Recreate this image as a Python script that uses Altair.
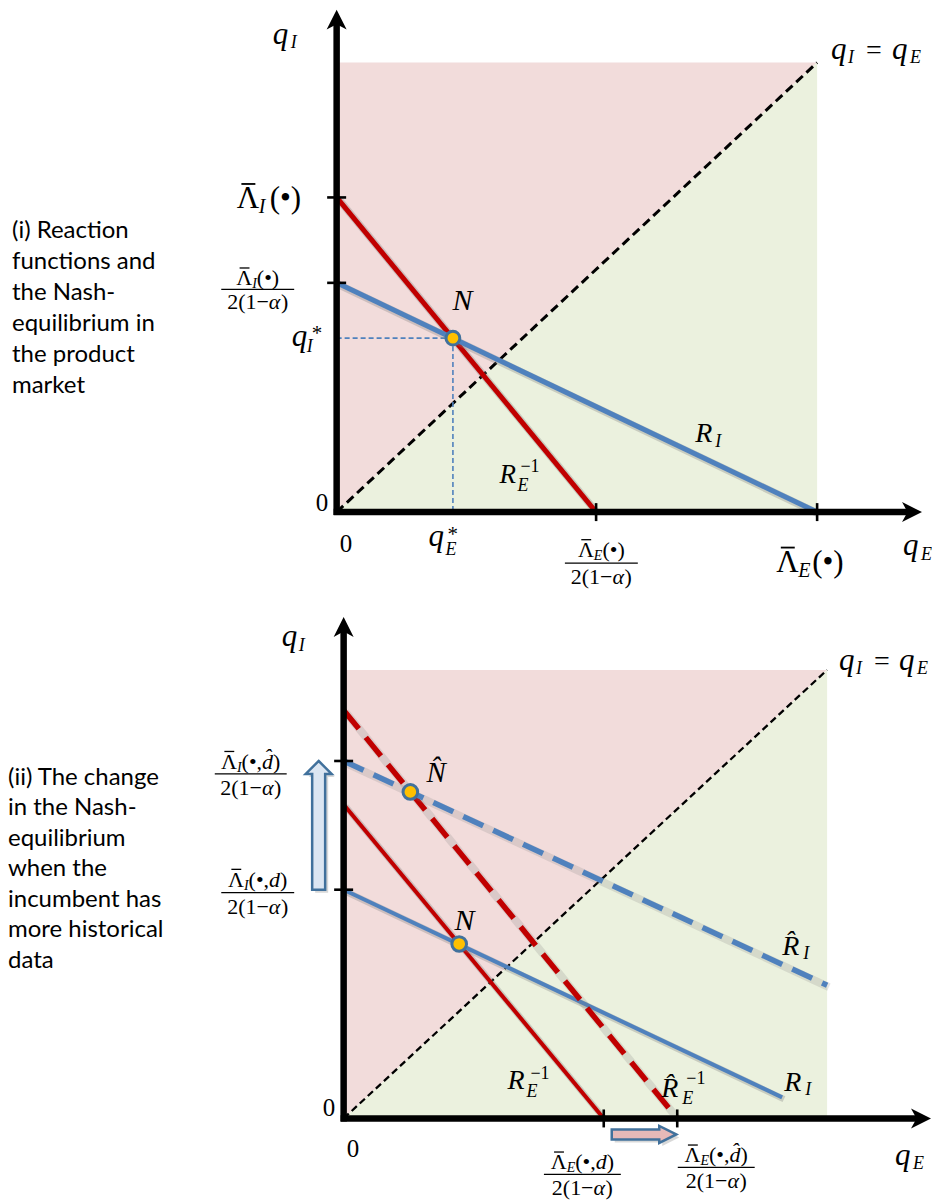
import altair as alt
import pandas as pd

# ===================== DATA (quantity units; shaded square spans 0..10) =====================
# Panel (i)
p1_RE_qE = [0.0, 5.4]      # R_E^{-1}: Λ̄_I(·) on q_I axis -> Λ̄_E(·)/2(1-α) on q_E axis
p1_RE_qI = [7.0, 0.0]
p1_RI_qE = [0.0, 10.0]     # R_I: Λ̄_I(·)/2(1-α) -> Λ̄_E(·)
p1_RI_qI = [5.1, 0.0]
p1_N = [2.42, 3.87]        # (q_E*, q_I*)
p1_xticks = [5.4, 10.0]
p1_yticks = [7.0, 5.1]

# Panel (ii)
p2_RE_qE = [0.0, 5.38]
p2_RE_qI = [7.0, 0.0]
p2_RI_qE = [0.0, 9.07]
p2_RI_qI = [5.1, 0.47]
p2_REh_qE = [0.0, 6.9]     # R̂_E^{-1} (dashed)
p2_REh_qI = [9.1, 0.0]
p2_RIh_qE = [0.0, 10.0]    # R̂_I (dashed)
p2_RIh_qI = [7.97, 2.97]
p2_N = [2.39, 3.89]
p2_Nh = [1.38, 7.28]
p2_xticks = [5.38, 6.9]
p2_yticks = [7.97, 5.1]

shade_qE = [0.0, 10.0]
shade_diag = [0.0, 10.0]
shade_top = [10.0, 10.0]
shade_bottom = [0.0, 0.0]

p1_caption = ["(i) Reaction", "functions and", "the Nash-", "equilibrium in", "the product", "market"]
p2_caption = ["(ii) The change", "in the Nash-", "equilibrium", "when the", "incumbent has",
              "more historical", "data"]

# ===================== STYLE / LAYOUT =====================
SERIF = "Liberation Serif"
SANS = "Lato"
RED = "#C00000"
BLUE = "#4F81BD"
PINK = "#F2DCDB"
GREEN = "#EBF1DE"
GOLD = "#FFC000"
EDGE = "#41719C"
SHADOW = "#7F7F7F"

W = 924
G1 = dict(ox=329, oy=504, sx=48.1, sy=45.0, H=600, ytip=503, xtip=586)
G2 = dict(ox=336, oy=511, sx=48.4, sy=44.9, H=595, ytip=502, xtip=588)

HAT = "\u0302"
LAM = "Λ"

REG_W = {"Λ": 0.722, "(": 0.333, ")": 0.333, "•": 0.35, ",": 0.25, "2": 0.5, "1": 0.5,
         "−": 0.564, "0": 0.5, "=": 0.564, "*": 0.5, " ": 0.25}
ITA_W = {"I": 0.333, "E": 0.611, "d": 0.5, "q": 0.5, "R": 0.611, "N": 0.667, "α": 0.55}


def text_width(t, size, kind):
    tab = ITA_W if kind == "it" else REG_W
    return sum(0.0 if c == HAT else tab.get(c, 0.5) for c in t) * size


class Panel:
    def __init__(self, G):
        self.G = G
        self.layers = []
        self.pieces = []
        self.bars = []
        self.xs = alt.Scale(domain=[-G["ox"] / G["sx"], (W - G["ox"]) / G["sx"]], nice=False, zero=False)
        self.ys = alt.Scale(domain=[(G["oy"] - G["H"]) / G["sy"], G["oy"] / G["sy"]], nice=False, zero=False)

    def X(self, f):
        return alt.X(f, type="quantitative", scale=self.xs, axis=None)

    def Y(self, f):
        return alt.Y(f, type="quantitative", scale=self.ys, axis=None)

    def du(self, px):
        return px / self.G["sx"]

    def dv(self, px):  # px measured downwards
        return -px / self.G["sy"]

    # ---- shapes ----
    def shading(self):
        pink = pd.DataFrame({"u": shade_qE, "lo": shade_diag, "hi": shade_top})
        green = pd.DataFrame({"u": shade_qE, "lo": shade_bottom, "hi": shade_diag})
        for df, col in ((pink, PINK), (green, GREEN)):
            self.layers.append(alt.Chart(df).mark_area(color=col, opacity=1).encode(
                x=self.X("u"), y=self.Y("lo"), y2=alt.Y2("hi")))

    def line(self, u, v, color, width, dash=None, shadow=0.32):
        if shadow:
            sd = pd.DataFrame({"u": [a + self.du(1.8) for a in u], "v": [b + self.dv(1.8) for b in v]})
            self.layers.append(alt.Chart(sd).mark_line(color=SHADOW, opacity=shadow,
                                                       strokeWidth=width + 2.5).encode(
                x=self.X("u"), y=self.Y("v")))
        kw = dict(color=color, strokeWidth=width, strokeCap="butt")
        if dash:
            kw["strokeDash"] = dash
        self.layers.append(alt.Chart(pd.DataFrame({"u": u, "v": v})).mark_line(**kw).encode(
            x=self.X("u"), y=self.Y("v")))

    def rules(self, rows, color, width, dash=None):
        kw = dict(color=color, strokeWidth=width, strokeCap="butt")
        if dash:
            kw["strokeDash"] = dash
        df = pd.DataFrame(rows, columns=["u", "v", "u2", "v2"])
        self.layers.append(alt.Chart(df).mark_rule(**kw).encode(
            x=self.X("u"), y=self.Y("v"), x2=alt.X2("u2"), y2=alt.Y2("v2")))

    def symbols(self, us, vs, shape, size, fill, stroke=None, sw=0, opacity=1.0):
        kw = dict(shape=shape, size=size, filled=True, fill=fill, opacity=opacity, strokeWidth=sw)
        if stroke:
            kw["stroke"] = stroke
        else:
            kw["strokeWidth"] = 0
        self.layers.append(alt.Chart(pd.DataFrame({"u": us, "v": vs})).mark_point(**kw).encode(
            x=self.X("u"), y=self.Y("v")))

    def axes(self):
        G = self.G
        yend = self.dv(-(G["ytip"] - 10))
        xend = self.du(G["xtip"] - 10)
        self.rules([[0, self.dv(3), 0, yend], [self.du(-3), 0, xend, 0]], "#000000", 6.5)
        self.symbols([0], [yend], "M0,-1L1,1L0,0.45L-1,1Z", 400, "#000000")
        self.symbols([xend], [0], "M1,0L-1,-1L-0.45,0L-1,1Z", 400, "#000000")

    def ticks(self, xt, yt):
        rows = [[t, self.dv(9), t, self.dv(-9)] for t in xt]
        rows += [[self.du(-9.5), t, self.du(9.5), t] for t in yt]
        self.rules(rows, "#000000", 2.6)

    # ---- text ----
    def piece(self, dx, dy, text, size, kind):
        self.pieces.append(dict(u=self.du(dx), v=self.dv(dy), text=text, size=size, kind=kind))
        if text == LAM:   # macron over Λ drawn as a short bar
            self.bars.append(dict(u=self.du(dx + 0.15 * size), v=self.dv(dy - 0.79 * size),
                                  u2=self.du(dx + 0.60 * size), v2=self.dv(dy - 0.79 * size),
                                  w=max(1.2, size / 17)))

    def frac(self, cx, nb, by, db, half, num, den):
        for parts, base in ((num, nb), (den, db)):
            total = sum(text_width(t, s, k) for t, s, k, _ in parts)
            x = cx - total / 2
            for t, s, k, off in parts:
                self.piece(x, base + off, t, s, k)
                x += text_width(t, s, k)
        self.bars.append(dict(u=self.du(cx - half), v=self.dv(by), u2=self.du(cx + half),
                              v2=self.dv(by), w=1.3))

    def caption(self, dx, dy, lines, lh):
        df = pd.DataFrame({"u": [self.du(dx)], "v": [self.dv(dy)], "text": ["\n".join(lines)]})
        self.layers.append(alt.Chart(df).mark_text(font=SANS, fontSize=24, align="left",
                                                   baseline="alphabetic", lineBreak="\n",
                                                   lineHeight=lh, color="#000000").encode(
            x=self.X("u"), y=self.Y("v"), text="text:N"))

    def build(self):
        if self.bars:
            self.layers.append(alt.Chart(pd.DataFrame(self.bars)).mark_rule(
                color="#000000", strokeCap="butt").encode(
                x=self.X("u"), y=self.Y("v"), x2=alt.X2("u2"), y2=alt.Y2("v2"),
                strokeWidth=alt.StrokeWidth("w:Q", scale=None)))
        df = pd.DataFrame(self.pieces)
        for kind, style in (("it", "italic"), ("reg", "normal")):
            sub = df[df["kind"] == kind]
            if len(sub) == 0:
                continue
            self.layers.append(alt.Chart(sub).mark_text(font=SERIF, fontStyle=style, align="left",
                                                        baseline="alphabetic", color="#000000").encode(
                x=self.X("u"), y=self.Y("v"), text="text:N",
                size=alt.Size("size:Q", scale=None)))
        return alt.layer(*self.layers).properties(width=W, height=self.G["H"])


def num_I(sub, extra=None, size=22):
    parts = [(LAM, size, "reg", 0), (sub, 14, "it", 3)]
    if extra is None:
        parts.append(("(•)", size, "reg", 0))
    else:
        parts += [("(•,", size, "reg", 0), (extra, size, "it", 0), (")", size, "reg", 0)]
    return parts


DEN = [("2(1−", 22, "reg", 0), ("α", 22, "it", 0), (")", 22, "reg", 0)]

# ===================== PANEL (i) =====================
P = Panel(G1)
P.shading()
P.line(shade_qE, shade_diag, "#000000", 3, dash=[9, 5], shadow=0)
P.rules([[0, p1_N[1], p1_N[0], p1_N[1]], [p1_N[0], p1_N[1], p1_N[0], 0]], BLUE, 1.6, dash=[5, 3])
P.line(p1_RE_qE, p1_RE_qI, RED, 5)
P.line(p1_RI_qE, p1_RI_qI, BLUE, 5)
P.axes()
P.ticks(p1_xticks, p1_yticks)
P.symbols([p1_N[0]], [p1_N[1]], "circle", 190, GOLD, EDGE, 3)

P.piece(-64, -469, "q", 31, "it"); P.piece(-46, -465, "I", 18, "it")
P.piece(-100, -304, LAM, 31, "reg"); P.piece(-78, -299, "I", 20, "it"); P.piece(-67, -304, "(•)", 31, "reg")
P.frac(-79, -227, -223, -203, 36.5, num_I("I"), DEN)
P.piece(-45, -166, "q", 31, "it"); P.piece(-30, -160, "I", 18, "it"); P.piece(-25, -172, "*", 21, "reg")
P.piece(116, -202, "N", 30, "it")
P.piece(359, -70, "R", 28, "it"); P.piece(379, -65, "I", 18, "it")
P.piece(163, -29, "R", 27, "it"); P.piece(181, -21, "E", 18, "it"); P.piece(184, -40, "−1", 18, "reg")
P.piece(-21, -1, "0", 25, "reg"); P.piece(3, 40, "0", 25, "reg")
P.piece(92, 34, "q", 31, "it"); P.piece(109, 43, "E", 18, "it"); P.piece(111, 29, "*", 21, "reg")
P.frac(265, 45, 51, 72, 36.5, num_I("E"), DEN)
P.piece(440, 60, LAM, 31, "reg"); P.piece(462, 65, "E", 20, "it"); P.piece(476, 60, "(•)", 31, "reg")
P.piece(567, 43, "q", 31, "it"); P.piece(585, 48, "E", 18, "it")
P.piece(495, -454, "q", 31, "it"); P.piece(512, -450, "I", 18, "it"); P.piece(530, -454, "=", 28, "reg")
P.piece(556, -454, "q", 31, "it"); P.piece(574, -450, "E", 18, "it")
P.caption(-325, -274, p1_caption, 31)
panel1 = P.build()

# ===================== PANEL (ii) =====================
Q = Panel(G2)
Q.shading()
Q.line(shade_qE, shade_diag, "#000000", 2.3, dash=[7, 4], shadow=0)
Q.line(p2_RE_qE, p2_RE_qI, RED, 4)
Q.line(p2_RI_qE, p2_RI_qI, BLUE, 4)
Q.line(p2_REh_qE, p2_REh_qI, RED, 5.5, dash=[24, 11], shadow=0.2)
Q.line(p2_RIh_qE, p2_RIh_qI, BLUE, 5.5, dash=[22, 11], shadow=0.2)
Q.axes()
Q.ticks(p2_xticks, p2_yticks)
Q.symbols([p2_N[0], p2_Nh[0]], [p2_N[1], p2_Nh[1]], "circle", 215, GOLD, EDGE, 3)

# block arrows (shift of the intercepts)
L_up = (p2_yticks[0] - p2_yticks[1]) * G2["sy"]
r = L_up / 2
hl, hw, sw = 13 / r, 13 / r, 6.5 / r
up_path = (f"M0,-1L{hw:.4f},{-1 + hl:.4f}L{sw:.4f},{-1 + hl:.4f}L{sw:.4f},1L{-sw:.4f},1"
           f"L{-sw:.4f},{-1 + hl:.4f}L{-hw:.4f},{-1 + hl:.4f}Z")
up_u = Q.du(-25)
up_v = (p2_yticks[0] + p2_yticks[1]) / 2
Q.symbols([up_u + Q.du(3)], [up_v + Q.dv(3)], up_path, L_up ** 2, SHADOW, opacity=0.3)
Q.symbols([up_u], [up_v], up_path, L_up ** 2, "#DCE6F2", EDGE, 2.5)

x0 = p2_xticks[0] + Q.du(8)
x1 = p2_xticks[1] - Q.du(1)
L_rt = (x1 - x0) * G2["sx"]
r = L_rt / 2
hl, hw, sw = 17 / r, 8.5 / r, 5 / r
rt_path = (f"M1,0L{1 - hl:.4f},{-hw:.4f}L{1 - hl:.4f},{-sw:.4f}L-1,{-sw:.4f}L-1,{sw:.4f}"
           f"L{1 - hl:.4f},{sw:.4f}L{1 - hl:.4f},{hw:.4f}Z")
rt_u = (x0 + x1) / 2
rt_v = Q.dv(16)
Q.symbols([rt_u + Q.du(3)], [rt_v + Q.dv(3)], rt_path, L_rt ** 2, SHADOW, opacity=0.3)
Q.symbols([rt_u], [rt_v], rt_path, L_rt ** 2, "#E6B9B8", EDGE, 2.5)

Q.piece(-62, -473, "q", 31, "it"); Q.piece(-45, -468, "I", 18, "it")
Q.piece(496, -449, "q", 31, "it"); Q.piece(513, -445, "I", 18, "it"); Q.piece(531, -449, "=", 28, "reg")
Q.piece(556, -449, "q", 31, "it"); Q.piece(574, -445, "E", 18, "it")
Q.frac(-93, -350, -345, -324, 36, num_I("I", "d" + HAT), DEN)
Q.frac(-86, -232, -226, -205, 36.5, num_I("I", "d"), DEN)
Q.piece(83, -337, "N" + HAT, 29, "it")
Q.piece(111, -189, "N", 30, "it")
Q.piece(439, -164, "R" + HAT, 28, "it"); Q.piece(460, -160, "I", 18, "it")
Q.piece(441, -27, "R", 28, "it"); Q.piece(462, -23, "I", 18, "it")
Q.piece(164, -29, "R", 28, "it"); Q.piece(183, -21, "E", 18, "it"); Q.piece(187, -39, "−1", 18, "reg")
Q.piece(318, -21, "R" + HAT, 28, "it"); Q.piece(339, -14, "E", 18, "it"); Q.piece(343, -34, "−1", 18, "reg")
Q.piece(-21, -2, "0", 25, "reg"); Q.piece(3, 39, "0", 25, "reg")
Q.frac(239, 51, 56, 77, 38.5, num_I("E", "d"), DEN)
Q.frac(373, 44, 49, 70, 38.5, num_I("E", "d" + HAT), DEN)
Q.piece(552, 47, "q", 31, "it"); Q.piece(570, 51, "E", 18, "it")
Q.caption(-336, -334, p2_caption, 30.5)
panel2 = Q.build()

chart = alt.vconcat(panel1, panel2, spacing=0).properties(padding=0).configure_view(strokeWidth=0)
chart.save("out.html", embed_options={"renderer": "svg", "actions": False})
